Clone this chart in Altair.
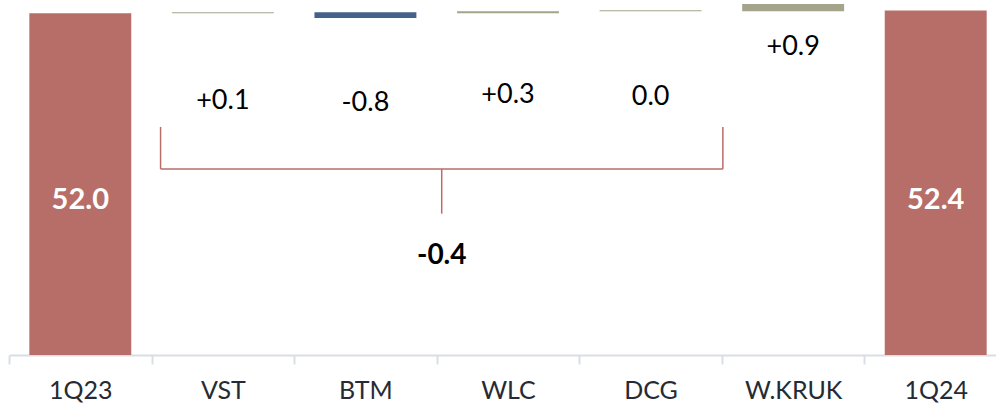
import altair as alt
import pandas as pd

# ---- data ----
categories = ["1Q23", "VST", "BTM", "WLC", "DCG", "W.KRUK", "1Q24"]
bar_start = [0.0, 52.0, 52.15, 52.0, 52.3, 52.3, 0.0]
bar_end = [52.0, 52.15, 51.25, 52.3, 52.45, 53.4, 52.4]
bar_kind = ["total", "up", "down", "up", "up", "up", "total"]
bar_labels = ["52.0", "+0.1", "-0.8", "+0.3", "0.0", "+0.9", "52.4"]
label_y = [23.6, 38.6, 38.3, 39.5, 39.2, 46.9, 23.6]

# bracket summarising VST..DCG
bracket_from = "VST"
bracket_to = "DCG"
bracket_mid = "WLC"
bracket_top = 34.7
bracket_level = 28.3
stem_bottom = 21.5
net_label = "-0.4"
net_label_y = 15.1

RED = "#B76E68"
OLIVE = "#A4A48A"
BLUE = "#44618A"
AXIS_GREY = "#D9DEE6"

df = pd.DataFrame({
    "cat": categories,
    "start": bar_start,
    "end": bar_end,
    "kind": bar_kind,
    "label": bar_labels,
    "ly": label_y,
})

x_scale = alt.Scale(domain=categories, range=[0, 998], paddingInner=0, paddingOuter=0)
y_scale = alt.Scale(domain=[0, 54.0], nice=False, zero=False)
x_axis = alt.Axis(title=None, labelAngle=0, tickBand="extent",
                  domainColor=AXIS_GREY, domainWidth=2,
                  tickColor=AXIS_GREY, tickWidth=2, tickSize=9,
                  labelFont="Lato", labelFontSize=25, labelColor="#262B33",
                  labelPadding=14)

bars = alt.Chart(df).mark_bar(width=alt.RelativeBandSize(0.715)).encode(
    x=alt.X("cat:N", scale=x_scale, sort=None, axis=x_axis),
    y=alt.Y("start:Q", scale=y_scale, axis=None),
    y2="end:Q",
    color=alt.Color("kind:N", scale=alt.Scale(domain=["total", "up", "down"],
                                              range=[RED, OLIVE, BLUE]), legend=None),
)

change_labels = alt.Chart(df).transform_filter(alt.datum.kind != "total").mark_text(
    font="Lato", fontSize=27, color="#000000", baseline="middle"
).encode(
    x=alt.X("cat:N", scale=x_scale, sort=None, axis=x_axis),
    y=alt.Y("ly:Q", scale=y_scale, axis=None),
    text="label:N",
)

total_labels = alt.Chart(df).transform_filter(alt.datum.kind == "total").mark_text(
    font="Lato", fontSize=29, fontWeight="bold", color="#FFFFFF", baseline="middle"
).encode(
    x=alt.X("cat:N", scale=x_scale, sort=None, axis=x_axis),
    y=alt.Y("ly:Q", scale=y_scale, axis=None),
    text="label:N",
)

bdf = pd.DataFrame({
    "cat": [bracket_from], "cat2": [bracket_to], "mid": [bracket_mid],
    "top": [bracket_top], "lvl": [bracket_level], "bot": [stem_bottom],
    "net": [net_label], "ny": [net_label_y],
})

rule_style = dict(color=RED, strokeWidth=1.5)

left_v = alt.Chart(bdf).mark_rule(xOffset=9, **rule_style).encode(
    x=alt.X("cat:N", scale=x_scale, bandPosition=0, axis=x_axis),
    y=alt.Y("lvl:Q", scale=y_scale, axis=None),
    y2="top:Q",
)
right_v = alt.Chart(bdf).mark_rule(xOffset=1, **rule_style).encode(
    x=alt.X("cat2:N", scale=x_scale, bandPosition=1, axis=x_axis),
    y=alt.Y("lvl:Q", scale=y_scale, axis=None),
    y2="top:Q",
)
horiz = alt.Chart(bdf).mark_rule(xOffset=9, x2Offset=1, **rule_style).encode(
    x=alt.X("cat:N", scale=x_scale, bandPosition=0, axis=x_axis),
    x2=alt.X2("cat2:N", bandPosition=1),
    y=alt.Y("lvl:Q", scale=y_scale, axis=None),
)
stem = alt.Chart(bdf).mark_rule(xOffset=5, **rule_style).encode(
    x=alt.X("mid:N", scale=x_scale, bandPosition=0, axis=x_axis),
    y=alt.Y("bot:Q", scale=y_scale, axis=None),
    y2="lvl:Q",
)
net_text = alt.Chart(bdf).mark_text(
    xOffset=5, font="Lato", fontSize=28, fontWeight="bold", color="#000000", baseline="middle"
).encode(
    x=alt.X("mid:N", scale=x_scale, bandPosition=0, axis=x_axis),
    y=alt.Y("ny:Q", scale=y_scale, axis=None),
    text="net:N",
)

chart = alt.layer(
    bars, change_labels, total_labels, left_v, right_v, horiz, stem, net_text
).properties(
    width=987, height=355,
    background="#FFFFFF",
    autosize=alt.AutoSizeParams(type="none"),
    padding={"left": 9, "top": 0, "right": 0, "bottom": 51},
).configure_view(strokeWidth=0)

chart.save("out.html", embed_options={"renderer": "svg", "actions": False})
